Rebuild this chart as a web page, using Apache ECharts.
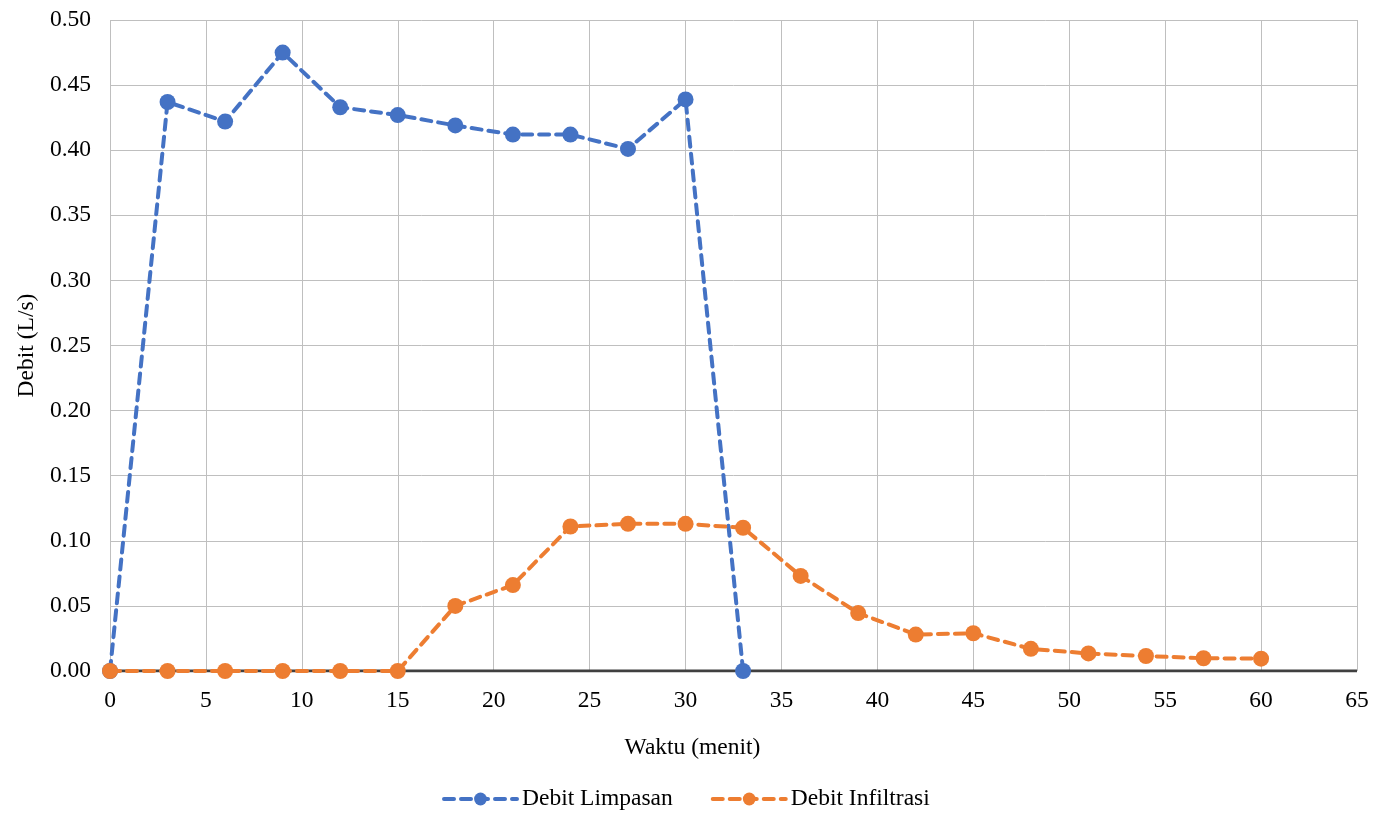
<!DOCTYPE html>
<html><head><meta charset="utf-8">
<script src="https://cdn.jsdelivr.net/npm/echarts@6/dist/echarts.min.js"></script>
<style>html,body{margin:0;padding:0;background:#fff}#c{width:1377px;height:816px}</style>
</head><body><div id="c"></div>
<script>
const waktuLimpasan = [0,3,6,9,12,15,18,21,24,27,30,33];
const debitLimpasan = [0,0.437,0.422,0.475,0.433,0.427,0.419,0.412,0.412,0.401,0.439,0];
const waktuInfiltrasi = [0,3,6,9,12,15,18,21,24,27,30,33,36,39,42,45,48,51,54,57,60];
const debitInfiltrasi = [0,0,0,0,0,0,0.050,0.066,0.111,0.113,0.113,0.110,0.073,0.0445,0.028,0.029,0.017,0.0135,0.0115,0.0098,0.0095];

const font = 'Liberation Serif, Times New Roman, serif';
const fs = 23.5;
const chart = echarts.init(document.getElementById('c'));
function pairs(xs, ys){ return xs.map((x,i)=>[x, ys[i]]); }
chart.setOption({
  animation:false,
  textStyle:{fontFamily:font, color:'#000'},
  grid:{left:110, right:20, top:20, bottom:145, containLabel:false, outerBoundsMode:'none'},
  legend:{
    bottom:0, left:437, itemWidth:73, itemHeight:16, itemGap:38,
    textStyle:{fontFamily:font, fontSize:fs, color:'#000'},
    lineStyle:{width:4, type:[10,7], cap:'round'},
    data:['Debit Limpasan','Debit Infiltrasi']
  },
  xAxis:{
    type:'value', min:0, max:65, interval:5,
    name:'Waktu (menit)', nameLocation:'middle', nameGap:65,
    nameTextStyle:{fontFamily:font, fontSize:fs, color:'#000', padding:[0,82,0,0]},
    axisLine:{show:false},
    axisTick:{show:false},
    axisLabel:{fontFamily:font, fontSize:fs, color:'#000', margin:18},
    splitLine:{show:true, lineStyle:{color:'#bfbfbf', width:1}}
  },
  yAxis:{
    type:'value', min:0, max:0.5, interval:0.05,
    name:'Debit (L/s)', nameLocation:'middle', nameGap:70,
    nameTextStyle:{fontFamily:font, fontSize:fs, color:'#000'},
    axisLine:{show:false}, axisTick:{show:false},
    axisLabel:{fontFamily:font, fontSize:fs, color:'#000', margin:19, formatter:v=>v.toFixed(2)},
    splitLine:{show:true, lineStyle:{color:'#bfbfbf', width:1}}
  },
  series:[
    {
      name:'zeroline', type:'line', data:[[0,0],[65,0]], symbol:'none', silent:true,
      lineStyle:{color:'#404040', width:3}, z:1, legendHoverLink:false
    },
    {
      name:'Debit Limpasan', type:'line', data:pairs(waktuLimpasan, debitLimpasan),
      symbol:'circle', symbolSize:16, z:3,
      itemStyle:{color:'#4472c4'},
      lineStyle:{color:'#4472c4', width:4, type:[10,7], cap:'round'}
    },
    {
      name:'Debit Infiltrasi', type:'line', data:pairs(waktuInfiltrasi, debitInfiltrasi),
      symbol:'circle', symbolSize:16, z:4,
      itemStyle:{color:'#ed7d31'},
      lineStyle:{color:'#ed7d31', width:4, type:[10,7], cap:'round'}
    }
  ]
});
</script></body></html>
